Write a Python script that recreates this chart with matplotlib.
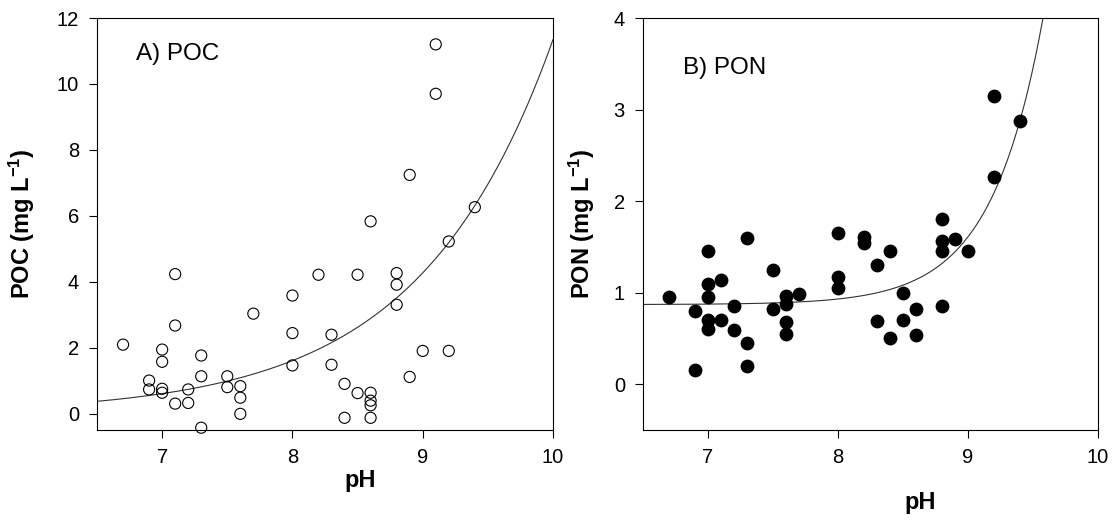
import numpy as np
import matplotlib
matplotlib.use("Agg")
import matplotlib.pyplot as plt

plt.rcParams['font.family'] = ['Liberation Sans', 'DejaVu Sans']
plt.rcParams['mathtext.default'] = 'regular'
plt.rcParams['axes.unicode_minus'] = False

# --- donnees ---
poc_ph = [6.7, 6.9, 6.9, 7.0, 7.0, 7.0, 7.0, 7.1, 7.1, 7.1, 7.2, 7.2,
          7.3, 7.3, 7.3, 7.5, 7.5, 7.6, 7.6, 7.6, 7.7, 8.0, 8.0, 8.0,
          8.2, 8.3, 8.3, 8.4, 8.4, 8.5, 8.5, 8.6, 8.6, 8.6, 8.6, 8.6,
          8.8, 8.8, 8.8, 8.9, 8.9, 9.0, 9.1, 9.1, 9.2, 9.2, 9.4]
poc = [2.09, 1.00, 0.73, 1.94, 1.57, 0.75, 0.63, 4.23, 2.67, 0.30, 0.73, 0.32,
       1.76, 1.13, -0.43, 1.13, 0.80, 0.83, 0.48, -0.01, 3.03, 3.58, 2.44, 1.46,
       4.21, 2.39, 1.48, 0.90, -0.13, 4.21, 0.62, 5.83, 0.63, 0.39, 0.25, -0.13,
       4.26, 3.91, 3.30, 7.24, 1.11, 1.90, 11.2, 9.70, 5.22, 1.90, 6.26]

pon_ph = [6.7, 6.9, 6.9, 7.0, 7.0, 7.0, 7.0, 7.0, 7.1, 7.1, 7.2, 7.2,
          7.3, 7.3, 7.3, 7.5, 7.5, 7.6, 7.6, 7.6, 7.6, 7.7, 8.0, 8.0,
          8.0, 8.2, 8.2, 8.3, 8.3, 8.4, 8.4, 8.5, 8.5, 8.6, 8.6, 8.8,
          8.8, 8.8, 8.8, 8.9, 9.0, 9.2, 9.2, 9.4]
pon = [0.95, 0.80, 0.15, 1.45, 1.10, 0.95, 0.70, 0.60, 1.14, 0.70, 0.85, 0.59,
       1.60, 0.45, 0.20, 1.25, 0.82, 0.96, 0.88, 0.68, 0.55, 0.98, 1.65, 1.17,
       1.05, 1.61, 1.54, 1.30, 0.69, 1.46, 0.50, 1.00, 0.70, 0.82, 0.54, 1.80,
       1.56, 1.45, 0.85, 1.59, 1.45, 3.15, 2.26, 2.88]

# ajustements exponentiels (parametres estimes sur la figure)
POC_A, POC_B, POC_REF = 0.37, 0.978, 6.5          # y = A exp(B (x - ref))
PON_C, PON_A, PON_B, PON_REF = 0.87, 0.74, 2.5, 9.0  # y = C + A exp(B (x - ref))

x_fit = np.linspace(6.5, 10.0, 400)
poc_fit = POC_A * np.exp(POC_B * (x_fit - POC_REF))
pon_fit = PON_C + PON_A * np.exp(PON_B * (x_fit - PON_REF))

fig = plt.figure(figsize=(11.18, 5.2), dpi=100)
ax1 = fig.add_axes([97/1118, 90/520, 456/1118, 412/520])
ax2 = fig.add_axes([643/1118, 90/520, 455/1118, 412/520])

# --- A) POC ---
ax1.plot(x_fit, poc_fit, color='#333333', lw=0.8)
ax1.scatter(poc_ph, poc, s=64, facecolors='none', edgecolors='black',
            linewidths=0.8, clip_on=False, zorder=3)
ax1.set_xlim(6.5, 10)
ax1.set_ylim(-0.5, 12)
ax1.set_yticks(np.arange(0, 13, 2))
ax1.set_ylabel("POC (mg L$^{-1}$)", fontsize=17, fontweight='bold')
ax1.yaxis.set_label_coords(-0.132, 0.5)
ax1.set_xlabel("pH", fontsize=17, fontweight='bold')
ax1.xaxis.set_label_coords(0.577, -0.095)
ax1.text(0.0855, 0.913, "A) POC", transform=ax1.transAxes, fontsize=17.5, va='center')

# --- B) PON ---
ax2.plot(x_fit, pon_fit, color='#333333', lw=0.8)
ax2.scatter(pon_ph, pon, s=80, color='black', clip_on=False, zorder=3)
ax2.set_xlim(6.5, 10)
ax2.set_ylim(-0.5, 4)
ax2.set_yticks([0, 1, 2, 3, 4])
ax2.set_ylabel("PON (mg L$^{-1}$)", fontsize=17, fontweight='bold')
ax2.yaxis.set_label_coords(-0.101, 0.5)
ax2.set_xlabel("pH", fontsize=17, fontweight='bold')
ax2.xaxis.set_label_coords(0.609, -0.148)
ax2.text(0.088, 0.879, "B) PON", transform=ax2.transAxes, fontsize=17.5, va='center')

for ax in (ax1, ax2):
    ax.set_xticks([7, 8, 9, 10])
    ax.tick_params(direction='out', length=6, width=0.8, labelsize=14.5, pad=7)
    for sp in ax.spines.values():
        sp.set_linewidth(0.8)

fig.savefig("out.png", dpi=100)
